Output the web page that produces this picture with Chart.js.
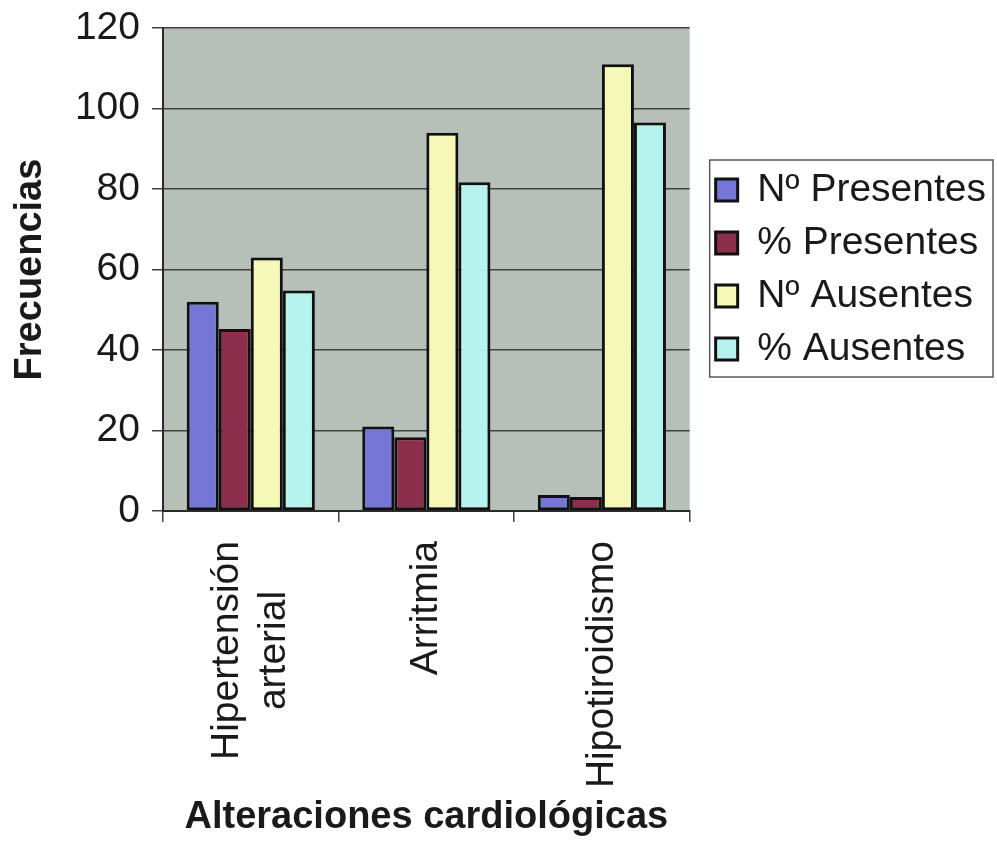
<!DOCTYPE html>
<html>
<head>
<meta charset="utf-8">
<script src="https://cdn.jsdelivr.net/npm/chart.js@4/dist/chart.umd.min.js"></script>
<style>
  html, body { margin: 0; padding: 0; background: #fff; }
  #wrap { width: 997px; height: 853px; }
</style>
</head>
<body>
<div id="wrap"><canvas id="chart"></canvas></div>
<script>
const categories = [["Hipertensión", "arterial"], "Arritmia", "Hipotiroidismo"];
const seriesNames = ["Nº Presentes", "% Presentes", "Nº Ausentes", "% Ausentes"];
const nPresentes = [52, 21, 4];
const pctPresentes = [45.2, 18.3, 3.5];
const nAusentes = [63, 94, 111];
const pctAusentes = [54.8, 81.7, 96.5];
const yTicks = [0, 20, 40, 60, 80, 100, 120];

const fontFamily = "'Liberation Sans', Arial, sans-serif";
Chart.defaults.font.family = fontFamily;
Chart.defaults.color = "#1a1a1a";

// plot area gray fill
const plotBg = {
    id: "plotBg",
    beforeDraw(chart) {
        const a = chart.chartArea;
        const ctx = chart.ctx;
        ctx.save();
        ctx.fillStyle = "#b6c0b9";
        ctx.fillRect(a.left, a.top, a.right - a.left, a.bottom - a.top);
        ctx.restore();
    }
};

// move legend a bit right and draw its frame
const legendFrame = {
    id: "legendFrame",
    afterLayout(chart) {
        const lg = chart.legend;
        lg.left += 12;
        lg.right += 12;
    },
    afterDraw(chart) {
        const lg = chart.legend;
        const ctx = chart.ctx;
        const x0 = lg.left + 8;
        ctx.save();
        ctx.strokeStyle = "#5a5a5a";
        ctx.lineWidth = 1.5;
        ctx.strokeRect(x0, 160, 993 - x0, 217);
        ctx.restore();
    }
};

// rotated category labels, lines centred on each other
const xLabels = {
    id: "xLabels",
    afterDraw(chart) {
        const xs = chart.scales.x;
        const ctx = chart.ctx;
        const size = 39;
        const lh = 47;
        const yTop = 541;
        ctx.save();
        ctx.font = size + "px " + fontFamily;
        ctx.fillStyle = "#1a1a1a";
        ctx.textAlign = "right";
        ctx.textBaseline = "middle";
        categories.forEach((lab, i) => {
            const lines = Array.isArray(lab) ? lab : [lab];
            const x = xs.getPixelForTick(i);
            const widths = lines.map(l => ctx.measureText(l).width);
            const maxW = Math.max(...widths);
            lines.forEach((line, j) => {
                const lx = x + (j - (lines.length - 1) / 2) * lh;
                ctx.save();
                ctx.translate(lx, yTop + (maxW - widths[j]) / 2);
                ctx.rotate(-Math.PI / 2);
                ctx.fillText(line, 0, 0);
                ctx.restore();
            });
        });
        ctx.restore();
    }
};

const colors = ["#7676d6", "#8c2f4c", "#f5f8b6", "#b6f3ef"];
const values = [nPresentes, pctPresentes, nAusentes, pctAusentes];

new Chart(document.getElementById("chart"), {
    type: "bar",
    data: {
        labels: categories,
        datasets: seriesNames.map((name, i) => ({
            label: name,
            data: values[i],
            backgroundColor: colors[i],
            borderColor: "#111",
            borderWidth: 3,
            borderSkipped: false,
            categoryPercentage: 0.73,
            barPercentage: 1.0
        }))
    },
    options: {
        responsive: true,
        maintainAspectRatio: false,
        animation: false,
        layout: { padding: { left: 0, top: 28, right: 13, bottom: 0 } },
        plugins: {
            tooltip: { enabled: false },
            legend: {
                position: "right",
                fullSize: false,
                align: "center",
                maxWidth: 400,
                labels: {
                    boxWidth: 22,
                    boxHeight: 22,
                    padding: 14,
                    color: "#1a1a1a",
                    font: { size: 39 }
                }
            }
        },
        scales: {
            x: {
                afterFit(scale) { scale.height = 342; },
                grid: {
                    drawOnChartArea: false,
                    drawTicks: true,
                    tickLength: 11,
                    color: "#404040",
                    lineWidth: 1.5
                },
                border: { display: true, color: "#2a2a2a", width: 2 },
                ticks: { color: "rgba(0,0,0,0)", maxRotation: 90, minRotation: 90, font: { size: 39 } },
                title: {
                    display: true,
                    text: "Alteraciones cardiológicas",
                    color: "#1a1a1a",
                    font: { size: 38, weight: "bold" },
                    padding: { top: 0, bottom: 13 }
                }
            },
            y: {
                min: 0,
                max: 120,
                afterFit(scale) {
                    scale.width = 163;
                    scale.paddingTop = 0;
                    scale.paddingBottom = 0;
                },
                afterBuildTicks(scale) { scale.ticks = yTicks.map(v => ({ value: v })); },
                grid: {
                    color: "#404040",
                    lineWidth: 1.5,
                    tickLength: 11
                },
                border: { display: true, color: "#2a2a2a", width: 2 },
                ticks: { padding: 12, color: "#1a1a1a", font: { size: 39 } },
                title: {
                    display: true,
                    text: "Frecuencias",
                    color: "#1a1a1a",
                    font: { size: 38, weight: "bold" },
                    padding: { top: 8, bottom: 0 }
                }
            }
        }
    },
    plugins: [plotBg, legendFrame, xLabels]
});
</script>
</body>
</html>
